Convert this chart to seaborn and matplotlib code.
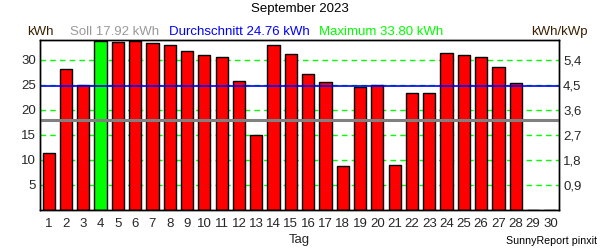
import matplotlib
matplotlib.use("Agg")
import matplotlib.pyplot as plt
import seaborn as sns
import pandas as pd

days = [str(i) for i in range(1, 31)]
energy = [11.4, 28.2, 25.0, 33.8, 33.6, 33.7, 33.4, 33.0, 31.8, 31.0,
          30.6, 25.8, 15.0, 33.0, 31.2, 27.1, 25.6, 8.8, 24.6, 24.9,
          9.0, 23.4, 23.4, 31.4, 30.9, 30.6, 28.6, 25.3, 0.0, 0.0]
soll = 17.92
avg = 24.76
maximum = 33.80
left_ticks = [5, 10, 15, 20, 25, 30]
right_ticks = [0.9, 1.8, 2.7, 3.6, 4.5, 5.4]
right_labels = ["0,9", "1,8", "2,7", "3,6", "4,5", "5,4"]
kwh_per_kwp = 0.18

sns.set_style("white")
plt.rcParams['font.family'] = ['Liberation Sans', 'DejaVu Sans']

df = pd.DataFrame({"Tag": days, "kWh": energy})
colors = {d: ("#00FF00" if v == max(energy) else "#FF0000") for d, v in zip(days, energy)}

fig = plt.figure(figsize=(6, 2.5), dpi=100)
ax = fig.add_axes([40/600, 40/250, 519/600, 170/250])
sns.barplot(data=df, x="Tag", y="kWh", hue="Tag", palette=colors, order=days,
            legend=False, width=0.7, edgecolor="black", linewidth=1.0,
            saturation=1, ax=ax, zorder=2)
ymax = 33.9
ax.set_ylim(0, ymax)
ax.set_xlim(-0.5, 29.5)
for t in left_ticks:
    ax.axhline(t, color="#00FF00", linestyle=(0, (4, 3)), linewidth=1.0, zorder=1)
ax.axhline(avg, color="#0000FF", linewidth=1.2, zorder=3)
ax.axhline(soll, color="#808080", linewidth=2.2, zorder=3)

fs = 9.5
ax.set_yticks(left_ticks)
ax.set_yticklabels([str(t) for t in left_ticks])
ax.tick_params(axis="y", length=0, pad=3, labelsize=fs)
ax.tick_params(axis="x", length=0, pad=6, labelsize=fs)
ax.set_xlabel("Tag", fontsize=fs, labelpad=3)
ax.set_ylabel("")
for s in ax.spines.values():
    s.set_color("black")
    s.set_linewidth(1.0)

ax2 = ax.twinx()
ax2.set_ylim(0, ymax * kwh_per_kwp)
ax2.set_yticks(right_ticks)
ax2.set_yticklabels(right_labels)
ax2.tick_params(axis="y", length=0, pad=3, labelsize=fs)
for s in ax2.spines.values():
    s.set_color("black")
    s.set_linewidth(1.0)

fig.text(0.5, 1 - 9/250, "September 2023", ha="center", va="center", fontsize=fs, color="black")
hy = 1 - 32/250
fig.text(27/600, hy, "kWh", ha="left", va="center", fontsize=fs, color="#3a2000")
fig.text(70/600, hy, f"Soll {soll:.2f} kWh", ha="left", va="center", fontsize=fs, color="#999999")
fig.text(169/600, hy, f"Durchschnitt {avg:.2f} kWh", ha="left", va="center", fontsize=fs, color="#0000FF")
fig.text(319/600, hy, f"Maximum {maximum:.2f} kWh", ha="left", va="center", fontsize=fs, color="#00FF00")
fig.text(588/600, hy, "kWh/kWp", ha="right", va="center", fontsize=fs, color="#3a2000")
fig.text(597/600, 1 - 241/250, "SunnyReport pinxit", ha="right", va="center", fontsize=7.7, color="black")

fig.savefig("out.png", dpi=100)
